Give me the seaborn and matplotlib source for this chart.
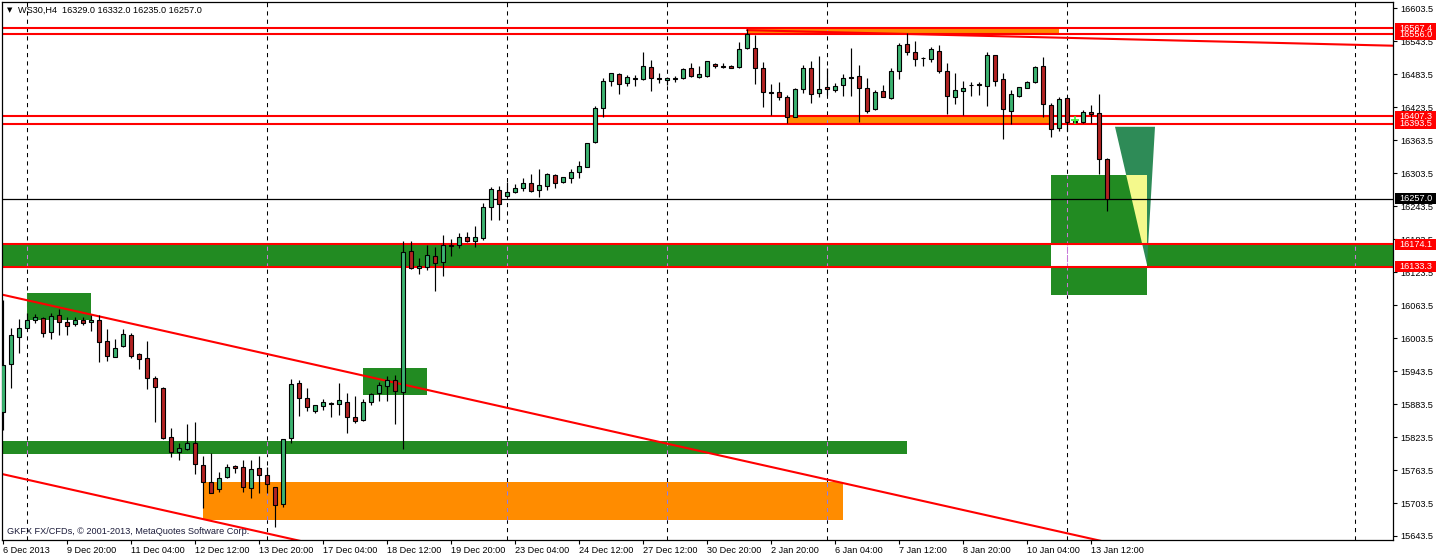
import matplotlib
matplotlib.use("Agg")
import matplotlib.pyplot as plt
from matplotlib.patches import Rectangle, Polygon
from matplotlib.transforms import blended_transform_factory
import numpy as np
import pandas as pd
import seaborn as sns

# ---------------- data (WS30, H4) ----------------
opens = [15868.5, 15955.8, 16006.1, 16021.3, 16036.4, 16039.5, 16015.2, 16045.5, 16033.4, 16028.5,
         16036.4, 16032.2, 16036.4, 15998.2, 15969.7, 15989.1, 16009.1, 15974.6, 15966.7, 15930.3,
         15912.1, 15824.2, 15796.9, 15801.2, 15812.1, 15772.7, 15742.3, 15728.4, 15750.2, 15770.8,
         15768.4, 15730.2, 15766.6, 15754.4, 15733.2, 15701.7, 15821.2, 15921.3, 15894.0, 15870.3,
         15880.6, 15884.9, 15883.1, 15887.9, 15859.4, 15854.6, 15887.9, 15903.1, 15917.0, 15926.7,
         15906.1, 16162.0, 16130.5, 16132.3, 16152.9, 16141.4, 16171.7, 16172.3, 16186.9, 16180.8,
         16185.0, 16241.4, 16272.3, 16262.6, 16270.0, 16276.0, 16285.1, 16272.3, 16280.2, 16300.2,
         16286.9, 16294.2, 16306.3, 16315.4, 16360.9, 16421.5, 16471.8, 16483.4, 16467.0, 16475.5,
         16475.5, 16496.1, 16476.1, 16472.4, 16475.5, 16476.1, 16494.3, 16479.1, 16480.9, 16502.2,
         16498.5, 16498.5, 16497.3, 16530.7, 16530.7, 16494.3, 16451.2, 16450.6, 16441.5, 16405.7,
         16456.1, 16494.3, 16448.8, 16459.7, 16454.9, 16463.3, 16476.1, 16480.3, 16457.9, 16419.7,
         16453.0, 16440.9, 16490.0, 16537.9, 16523.4, 16513.7, 16510.6, 16526.4, 16490.0, 16442.7,
         16453.6, 16464.0, 16464.5, 16462.7, 16518.5, 16474.3, 16417.3, 16444.6, 16459.1, 16468.8,
         16498.5, 16427.6, 16385.1, 16439.7, 16397.5, 16397.2, 16414.2, 16412.4, 16329.0]
highs = [16072.8, 16021.3, 16037.6, 16048.6, 16047.3, 16042.5, 16048.6, 16055.8, 16042.5, 16041.3,
         16042.5, 16045.5, 16045.5, 16019.5, 16001.3, 16019.5, 16013.4, 15975.8, 15998.2, 15934.6,
         15915.2, 15839.4, 15812.1, 15847.2, 15850.3, 15789.0, 15793.9, 15759.9, 15774.5, 15772.7,
         15781.7, 15781.7, 15789.0, 15768.4, 15733.2, 15819.3, 15929.1, 15927.3, 15912.2, 15881.2,
         15892.2, 15887.9, 15921.3, 15903.1, 15898.2, 15892.2, 15903.1, 15923.1, 15934.6, 15935.8,
         16180.2, 16180.2, 16148.7, 16172.9, 16169.9, 16191.1, 16183.8, 16194.1, 16196.0, 16207.5,
         16248.7, 16279.0, 16280.2, 16288.1, 16283.9, 16294.8, 16302.0, 16311.1, 16304.5, 16302.0,
         16297.2, 16311.1, 16325.7, 16359.0, 16425.7, 16476.1, 16486.4, 16485.2, 16482.1, 16482.1,
         16524.6, 16509.4, 16486.4, 16479.1, 16480.3, 16494.3, 16504.6, 16498.5, 16508.2, 16504.6,
         16504.6, 16500.3, 16541.6, 16565.2, 16554.9, 16505.2, 16465.8, 16468.8, 16445.8, 16457.9,
         16500.3, 16508.2, 16516.7, 16494.3, 16468.2, 16484.0, 16530.7, 16500.3, 16476.1, 16454.9,
         16464.0, 16494.3, 16539.7, 16557.9, 16544.6, 16514.3, 16532.5, 16536.7, 16504.6, 16486.4,
         16471.8, 16468.8, 16470.0, 16523.4, 16518.5, 16486.4, 16454.9, 16459.7, 16471.2, 16498.5,
         16514.3, 16430.6, 16441.5, 16440.9, 16400.0, 16418.4, 16427.5, 16447.5, 16332.0]
lows = [15836.3, 15912.1, 15975.8, 16021.3, 16031.6, 16006.1, 16001.9, 16009.1, 16009.1, 16025.5,
        16026.7, 16017.0, 15960.6, 15962.4, 15968.5, 15987.9, 15966.7, 15946.7, 15910.3, 15851.5,
        15819.3, 15787.8, 15781.7, 15799.9, 15756.3, 15693.8, 15721.1, 15722.9, 15748.4, 15758.7,
        15724.1, 15712.0, 15721.1, 15721.1, 15659.2, 15696.9, 15812.1, 15862.4, 15871.5, 15867.9,
        15872.8, 15860.6, 15863.6, 15830.3, 15849.7, 15853.3, 15881.8, 15889.1, 15889.1, 15847.3,
        15801.2, 16128.7, 16120.2, 16127.4, 16089.8, 16117.1, 16153.5, 16166.8, 16177.8, 16169.9,
        16182.0, 16218.4, 16218.4, 16260.8, 16268.1, 16271.7, 16269.3, 16259.6, 16272.9, 16277.2,
        16285.1, 16286.3, 16294.2, 16314.2, 16359.0, 16406.3, 16462.7, 16447.6, 16462.7, 16462.7,
        16473.0, 16453.6, 16467.0, 16464.0, 16470.0, 16474.3, 16477.9, 16476.1, 16479.1, 16495.5,
        16495.5, 16494.3, 16495.5, 16528.8, 16465.8, 16423.3, 16409.4, 16436.7, 16394.2, 16405.1,
        16450.0, 16431.8, 16442.7, 16445.8, 16450.6, 16444.6, 16443.9, 16397.2, 16413.6, 16418.5,
        16441.5, 16437.9, 16474.9, 16518.5, 16498.5, 16498.5, 16506.4, 16485.2, 16411.2, 16429.4,
        16409.4, 16444.0, 16445.8, 16425.7, 16462.7, 16366.3, 16393.0, 16441.5, 16457.9, 16467.0,
        16406.3, 16370.0, 16380.9, 16380.9, 16395.0, 16394.2, 16394.2, 16302.0, 16235.0]
closes = [15954.6, 16009.1, 16021.3, 16036.4, 16041.3, 16012.2, 16043.7, 16033.4, 16026.1, 16036.4,
          16031.6, 16036.4, 15997.0, 15970.9, 15984.9, 16010.4, 15970.9, 15966.1, 15930.3, 15914.0,
          15821.2, 15796.9, 15803.0, 15812.1, 15773.9, 15741.1, 15721.1, 15748.4, 15768.4, 15766.6,
          15732.0, 15764.8, 15754.4, 15738.1, 15699.9, 15819.3, 15919.4, 15894.0, 15877.6, 15881.2,
          15886.7, 15883.7, 15890.3, 15860.6, 15853.3, 15887.9, 15901.3, 15917.6, 15926.7, 15907.9,
          16159.6, 16131.7, 16134.7, 16154.7, 16139.6, 16172.9, 16172.3, 16186.9, 16180.8, 16186.9,
          16241.4, 16274.1, 16246.9, 16268.6, 16276.0, 16285.1, 16271.1, 16281.4, 16301.4, 16286.3,
          16296.0, 16305.1, 16316.6, 16357.8, 16421.5, 16471.2, 16485.2, 16465.2, 16477.9, 16476.7,
          16498.5, 16476.1, 16475.5, 16476.1, 16476.7, 16492.5, 16480.9, 16484.0, 16507.0, 16498.5,
          16497.3, 16495.5, 16528.8, 16556.1, 16494.3, 16450.6, 16449.4, 16441.5, 16405.1, 16456.1,
          16494.3, 16447.0, 16456.1, 16456.1, 16462.1, 16476.1, 16477.9, 16457.9, 16417.3, 16451.8,
          16442.7, 16490.0, 16536.7, 16524.6, 16510.6, 16512.5, 16528.8, 16490.0, 16444.6, 16454.9,
          16457.9, 16464.0, 16464.5, 16518.5, 16471.8, 16419.7, 16447.6, 16459.7, 16469.4, 16496.1,
          16428.8, 16383.3, 16438.5, 16397.2, 16397.2, 16414.2, 16410.5, 16329.0, 16257.0]

x_tick_pos = [0, 8, 16, 24, 32, 40, 48, 56, 64, 72, 80, 88, 96, 104, 112, 120, 128, 136]
x_tick_labels = ["6 Dec 2013", "9 Dec 20:00", "11 Dec 04:00", "12 Dec 12:00", "13 Dec 20:00",
                 "17 Dec 04:00", "18 Dec 12:00", "19 Dec 20:00", "23 Dec 04:00", "24 Dec 12:00",
                 "27 Dec 12:00", "30 Dec 20:00", "2 Jan 20:00", "6 Jan 04:00", "7 Jan 12:00",
                 "8 Jan 20:00", "10 Jan 04:00", "13 Jan 12:00"]
y_ticks = [15643.5, 15703.5, 15763.5, 15823.5, 15883.5, 15943.5, 16003.5, 16063.5, 16123.5,
           16183.5, 16243.5, 16303.5, 16363.5, 16423.5, 16483.5, 16543.5, 16603.5]
grid_bars = [3, 33, 63, 83, 103, 133, 169]

# drawn objects (bar index / price)
h_levels = [16567.4, 16556.0, 16407.3, 16393.5, 16174.1, 16133.3]
band_level = (16133.3, 16174.1)
green_rects = [(3.04, 10.96, 16036.4, 16086.1),
               (45.0, 53.0, 15900.0, 15949.1),
               (-0.125, 113.0, 15793.2, 15816.3)]
orange_rects = [(25.0, 105.0, 15672.6, 15742.3),
                (93.0, 132.0, 16556.0, 16567.4),
                (98.0, 131.0, 16393.5, 16407.3)]
target_rect = (131.0, 143.0, 16081.9, 16300.2)
triangle_pts = [(139.0, 16388.0), (144.0, 16388.0), (143.0, 16137.0)]
trend_upper = [(-1.0, 16085.5), (150.0, 15593.0)]
trend_lower = [(-1.0, 15759.1), (60.0, 15560.0)]
trend_top = [(93.0, 16563.8), (174.0, 16535.4)]
marker_pt = (134, 16400.0)

# ---------------- style ----------------
sns.set_theme(style="white")
plt.rcParams['font.family'] = ['Liberation Sans', 'DejaVu Sans']

FS = 6.6
W, H = 1436, 558
fig = plt.figure(figsize=(W / 100, H / 100), dpi=100)
ax = fig.add_axes([2 / W, 18 / H, 1391 / W, 538 / H])
ax.set_facecolor('white')
ax.set_xlim(-0.125, 173.75)
ax.set_ylim(15636.2, 16615.0)

RED = '#FF0000'
GREEN = '#228B22'
ORANGE = '#FF8C00'
TEAL = '#2E8B57'
YELLOW = '#F4F98C'
BULL = '#3CB371'
BEAR = '#B22222'

# vertical dashed grid
for g in grid_bars:
    ax.axvline(g, color='black', lw=0.75, ls=(0, (4, 4)), zorder=0.6)

# green band full width
ax.axhspan(band_level[0], band_level[1], color=GREEN, lw=0, zorder=1.0)

# rectangles
for (x0, x1, y0, y1) in green_rects:
    ax.add_patch(Rectangle((x0, y0), x1 - x0, y1 - y0, facecolor=GREEN, lw=0, zorder=1.0))
for (x0, x1, y0, y1) in orange_rects:
    ax.add_patch(Rectangle((x0, y0), x1 - x0, y1 - y0, facecolor=ORANGE, lw=0, zorder=1.0))

# triangle + target rectangle (with XOR-like overlaps)
ax.add_patch(Polygon(triangle_pts, closed=True, facecolor=TEAL, lw=0, zorder=1.0))
tx0, tx1, ty0, ty1 = target_rect
ax.add_patch(Rectangle((tx0, ty0), tx1 - tx0, ty1 - ty0, facecolor=GREEN, lw=0, zorder=1.1))
ax.add_patch(Rectangle((tx0, band_level[0]), tx1 - tx0, band_level[1] - band_level[0],
                       facecolor='white', lw=0, zorder=1.2))
yel = Polygon(triangle_pts, closed=True, facecolor=YELLOW, lw=0, zorder=1.3)
ax.add_patch(yel)
yel.set_clip_path(Rectangle((tx0, band_level[1]), tx1 - tx0, ty1 - band_level[1],
                            transform=ax.transData))
tl = Polygon(triangle_pts, closed=True, facecolor=TEAL, lw=0, zorder=1.3)
ax.add_patch(tl)
tl.set_clip_path(Rectangle((tx0, band_level[0]), tx1 - tx0, band_level[1] - band_level[0],
                           transform=ax.transData))

# grid segments over filled objects
fill_regions = [(r, '#C878D8') for r in green_rects] + [(r, '#8A7CF0') for r in orange_rects]
fill_regions.append(((-0.125, 173.75, band_level[0], band_level[1]), '#C878D8'))
fill_regions.append((target_rect, '#C878D8'))
for (x0, x1, y0, y1), col in fill_regions:
    for g in grid_bars:
        if x0 <= g <= x1:
            ax.plot([g, g], [y0, y1], color=col, lw=0.75, ls=(0, (4, 4)), zorder=1.5)

# current price line
last_close = closes[-1]
ax.axhline(last_close, color='black', lw=0.9, zorder=1.6)

# horizontal red levels
for lv in h_levels:
    ax.axhline(lv, color=RED, lw=1.5, zorder=2.0)

# trendlines (seaborn)
for pts in (trend_upper, trend_lower, trend_top):
    tdf = pd.DataFrame(pts, columns=['x', 'y'])
    sns.lineplot(data=tdf, x='x', y='y', ax=ax, color=RED, lw=1.5, zorder=2.0,
                 sort=False, estimator=None)

# candles
o = np.array(opens); h = np.array(highs); l = np.array(lows); c = np.array(closes)
idx = np.arange(len(o))
ax.vlines(idx, l, h, color='black', lw=0.85, zorder=3.0)
body_cols = [BULL if cc > oo else BEAR for oo, cc in zip(o, c)]
ax.bar(idx, np.maximum(np.abs(c - o), 0.6), bottom=np.minimum(o, c), width=0.62,
       color=body_cols, edgecolor='black', linewidth=0.8, zorder=3.1)

ax.plot([marker_pt[0]], [marker_pt[1]], marker='+', color='#33EE33', ms=6, mew=1.2,
        ls='none', zorder=4)

# axes / ticks
ax.set_xlabel('')
ax.set_ylabel('')
ax.set_xticks(x_tick_pos)
ax.set_xticklabels(x_tick_labels)
for lab in ax.get_xticklabels():
    lab.set_ha('left')
ax.yaxis.tick_right()
ax.set_yticks(y_ticks)
ax.set_yticklabels([f"{v:.1f}" for v in y_ticks])
ax.tick_params(axis='x', bottom=True, direction='out', length=3, width=0.8, pad=1.5,
               labelsize=FS, colors='black')
ax.tick_params(axis='y', right=True, left=False, labelright=True, labelleft=False,
               direction='out', length=3, width=0.8, pad=2, labelsize=FS, colors='black')
for s in ax.spines.values():
    s.set_color('black')
    s.set_linewidth(0.9)

# price boxes on the right scale
bt = blended_transform_factory(ax.transAxes, ax.transData)
bx0 = (1395 - 2) / 1391
bx1 = (1436 - 2) / 1391
box_h = 20.0
price_boxes = [(16556.0, RED), (16567.4, RED), (16393.5, RED), (16407.3, RED),
               (16133.3, RED), (16174.1, RED), (last_close, 'black')]
for val, col in price_boxes:
    ax.add_patch(Rectangle((bx0, val - box_h / 2), bx1 - bx0, box_h, transform=bt,
                           facecolor=col, lw=0, clip_on=False, zorder=5))
    ax.text((1399 - 2) / 1391, val, f"{val:.1f}", transform=bt, color='white',
            fontsize=FS, va='center', ha='left', clip_on=False, zorder=6)

# header and copyright
title = f"WS30,H4  {opens[-1]:.1f} {highs[-1]:.1f} {lows[-1]:.1f} {closes[-1]:.1f}"
ax.text((7 - 2) / 1391, 1 - (10 - 2) / 538, "▼", transform=ax.transAxes, fontsize=5,
        family=['DejaVu Sans'], va='center', ha='left', color='black', zorder=6)
ax.text((18 - 2) / 1391, 1 - (10 - 2) / 538, title, transform=ax.transAxes, fontsize=FS,
        va='center', ha='left', color='black', zorder=6)
ax.text((7 - 2) / 1391, 1 - (532 - 2) / 538,
        "GKFX FX/CFDs, \u00a9 2001-2013, MetaQuotes Software Corp.",
        transform=ax.transAxes, fontsize=FS, va='center', ha='left', color='#1c1c3a', zorder=6)

fig.savefig('out.png', dpi=100, facecolor='white')
